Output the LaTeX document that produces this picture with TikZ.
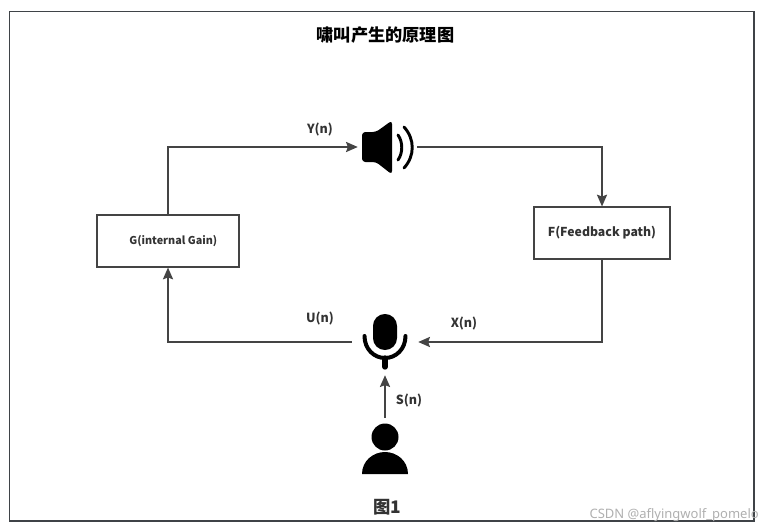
\documentclass[tikz,border=0pt]{standalone}
\usepackage{fontspec}
\setmainfont{Noto Sans CJK SC}
\definecolor{FrameGrey}{HTML}{3F4347}
\definecolor{FlowGrey}{HTML}{444444}
\definecolor{LabelGrey}{HTML}{333333}
\definecolor{MarkGrey}{HTML}{B0B0B0}
\usetikzlibrary{arrows.meta,positioning}
\tikzset{
  flow/.style={-{Stealth[length=3.1mm,width=2.7mm,inset=0.5mm]},line width=0.9pt,FlowGrey},
  blockbox/.style={draw=FlowGrey,line width=0.9pt,text=LabelGrey},
  iconbox/.style={inner sep=0pt},
  siglabel/.style={font=\fontsize{9.4}{11}\bfseries,text=LabelGrey}
}
\begin{document}
\begin{tikzpicture}[x=0.75pt,y=-0.75pt]
  \useasboundingbox (0,0) rectangle (764,528);
  \fill[white] (0,0) rectangle (764,528);
  \draw[FrameGrey,line width=1.1pt] (9.5,11.5) rectangle (754,521);
  \node[font=\fontsize{12.9}{15}\bfseries,text=black] (title) at (385.5,35.5) {啸叫产生的原理图};
  \node[blockbox,font=\fontsize{8.1}{10}\bfseries,minimum width=106.5pt,minimum height=39pt] (gain) at (168,241) {\hspace*{8pt}G(internal Gain)};
  \node[blockbox,font=\fontsize{9.2}{11}\bfseries,minimum width=102pt,minimum height=39pt] (feedback) at (602,233) {F(Feedback path)};
  \node[iconbox,minimum width=44.25pt,minimum height=39pt] (speaker) at (387.5,147) {};
  \node[iconbox,minimum width=49.5pt,minimum height=49.5pt] (mic) at (385,342) {};
  \node[iconbox,minimum width=34.5pt,minimum height=42pt] (person) at (385,446) {};
  \fill[black,rounded corners=2.5pt] (362,132) -- (376,132) -- (392,120.5) -- (392,174.5) -- (376,162) -- (362,162) -- cycle;
  \draw[black,line width=2.2pt,line cap=round] (398,135) .. controls (403,142) and (403,153) .. (398,160);
  \draw[black,line width=2.2pt,line cap=round] (404,127) .. controls (415,139) and (415,156) .. (404,168);
  \fill[black,rounded corners=8.9pt] (373,314) rectangle (397,350);
  \draw[black,line width=3pt,line cap=round] (364.5,336) .. controls (364.5,349) and (374,358) .. (385,358) .. controls (396,358) and (405.5,349) .. (405.5,336);
  \draw[black,line width=4pt,line cap=round] (385,358) -- (385,367);
  \fill[black] (385,437) circle[radius=13.5];
  \fill[black] (362,474) .. controls (362,461) and (373,452) .. (385,452) .. controls (397,452) and (408,461) .. (408,474) -- cycle;
  \draw[flow] (gain.north) |- (speaker.west);
  \draw[flow] (speaker.east) -| (feedback.north);
  \draw[flow] (feedback.south) |- (mic.east);
  \draw[flow] (mic.west) -| (gain.south);
  \draw[flow] (person.north) -- (mic.south);
  \node[siglabel] (ylabel) at (320,129.5) {Y(n)};
  \node[siglabel] (ulabel) at (320,318.5) {U(n)};
  \node[siglabel] (xlabel) at (464,323.5) {X(n)};
  \node[siglabel] (slabel) at (409,400.5) {S(n)};
  \node[font=\fontsize{13}{15}\bfseries,text=LabelGrey] (caption) at (387,507) {图1};
  \node[font=\fontsize{9.75}{12}\fontspec{Noto Sans}\selectfont\fontseries{l},text=MarkGrey,anchor=east,inner sep=0pt] (mark) at (759,515.5) {CSDN @aflyingwolf\_pomelo};
\end{tikzpicture}
\end{document}
